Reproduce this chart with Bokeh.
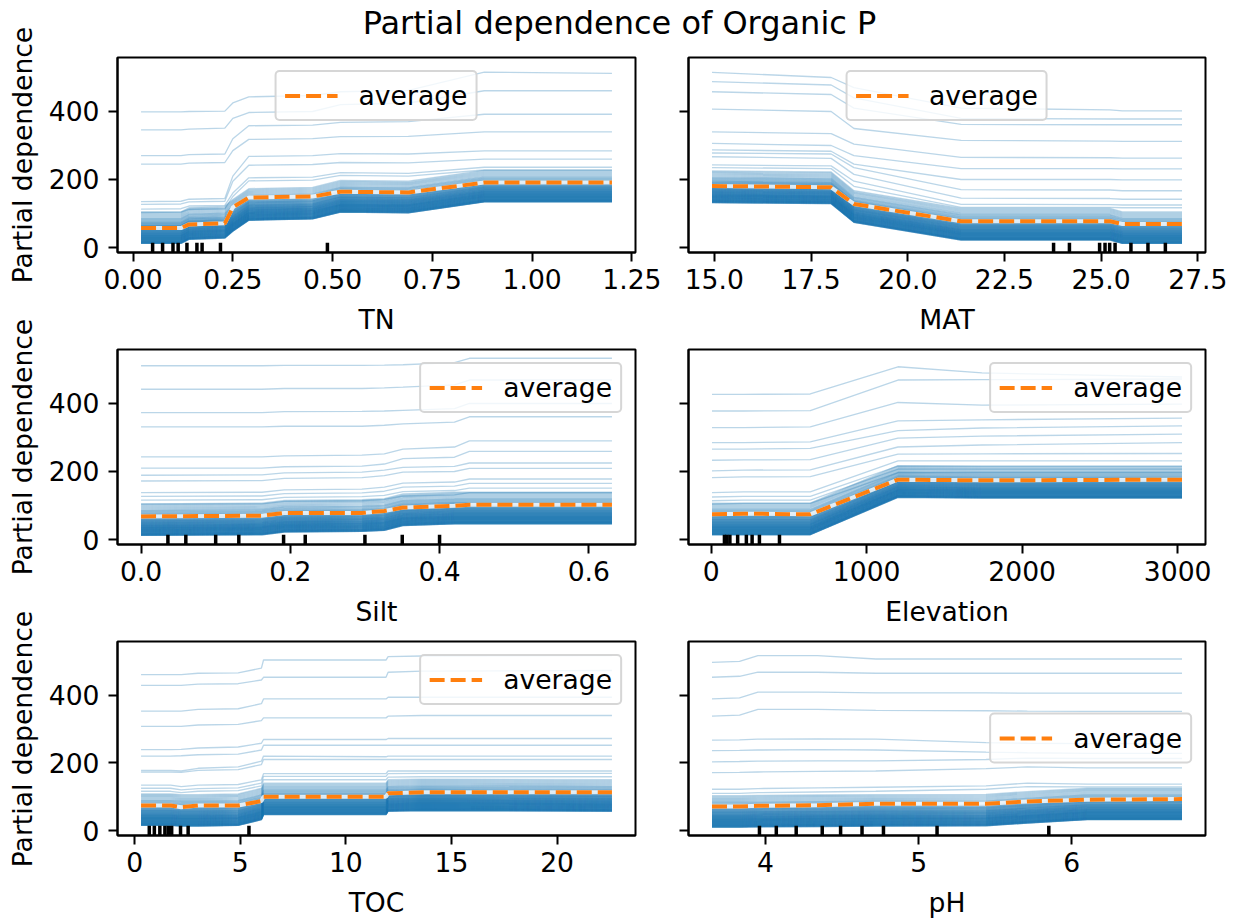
from bokeh.plotting import figure
from bokeh.layouts import column, row
from bokeh.models import (Range1d, FixedTicker, NumeralTickFormatter,
                          CustomJSTickFormatter, Legend, LegendItem)
from bokeh.core.properties import value
from bokeh.embed import file_html
from bokeh.resources import INLINE
import math

FONT = "DejaVu Sans"
ICE_BLUE = "#1f77b4"
AVG_ORANGE = "#ff7f0e"
TITLE = "Partial dependence of Organic P"
Y_LABEL = "Partial dependence"

# shared vertical extent of all six panels
Y_LOW, Y_HIGH = -14.7, 558.8
y_ticks = [0, 200, 400]

# level of each individual curve above the bottom of the dense band
band_offsets = [
    0, 0, 0, 1, 1, 2, 2, 2, 3, 3, 4, 4, 5, 5, 5, 6, 6, 7, 7, 8,
    8, 9, 9, 10, 10, 11, 11, 12, 12, 13, 13, 14, 14, 15, 15, 16, 16, 17, 17, 18,
    18, 19, 19, 20, 20, 21, 21, 22, 22, 23, 23, 24, 24, 25, 25, 26, 27, 27, 28, 28,
    29, 30, 30, 31, 31, 32, 33, 33, 34, 35, 35, 36, 37, 37, 38, 39, 40, 40, 41, 42,
    43, 44, 44, 45, 46, 47, 48, 49, 50, 51, 52, 53, 54, 55, 56, 58, 59, 60, 62, 63,
    65, 67, 69, 71, 73, 75, 78, 81, 84, 87, 90, 93,
]

# ---- TN ----
tn_grid = [0.02, 0.12, 0.14, 0.23, 0.25, 0.29, 0.45, 0.52, 0.69, 0.88, 1.20]
tn_average = [57, 57, 68, 71, 118, 147, 150, 164, 162, 191, 191]
tn_floor = [12, 12, 24, 28, 48, 80, 84, 104, 102, 134, 134]
tn_upper = [
    [399, 399, 400, 401, 425, 443, 447, 458, 462, 516, 512],
    [346, 346, 348, 351, 380, 397, 400, 420, 425, 461, 461],
    [270, 270, 273, 275, 320, 358, 360, 368, 370, 392, 392],
    [245, 245, 248, 250, 285, 318, 320, 326, 327, 340, 340],
    [135, 136, 142, 144, 210, 268, 270, 276, 275, 284, 284],
    [127, 128, 134, 136, 195, 242, 244, 250, 249, 260, 260],
    [113, 114, 122, 124, 160, 205, 207, 220, 218, 236, 236],
    [103, 104, 112, 114, 150, 196, 198, 212, 210, 228, 228],
]
tn_deciles = [0.049, 0.074, 0.100, 0.113, 0.135, 0.160, 0.173, 0.219, 0.487]
tn_ticks = [0.0, 0.25, 0.5, 0.75, 1.0, 1.25]

# ---- MAT ----
mat_grid = [14.94, 18.02, 18.61, 21.38, 25.23, 25.55, 27.09]
mat_average = [181, 177, 128, 77, 77, 69, 69]
mat_floor = [132, 129, 74, 22, 22, 12, 12]
mat_upper = [
    [515, 500, 470, 410, 405, 402, 402],
    [488, 478, 440, 380, 378, 378, 378],
    [458, 450, 410, 362, 361, 361, 361],
    [407, 400, 350, 315, 313, 312, 312],
    [340, 335, 304, 265, 264, 263, 263],
    [306, 300, 270, 232, 232, 231, 231],
    [287, 283, 245, 200, 200, 199, 199],
    [278, 275, 235, 170, 169, 167, 167],
    [267, 262, 215, 145, 144, 142, 142],
    [243, 240, 195, 127, 126, 125, 125],
    [235, 232, 180, 118, 118, 117, 117],
]
mat_deciles = [23.77, 24.18, 24.96, 25.10, 25.22, 25.36, 25.77, 26.21, 26.66]
mat_ticks = [15.0, 17.5, 20.0, 22.5, 25.0, 27.5]

# ---- Silt ----
silt_grid = [0.0, 0.162, 0.192, 0.296, 0.326, 0.351, 0.42, 0.44, 0.631]
silt_average = [68, 70, 78, 78, 84, 94, 99, 102, 102]
silt_floor = [12, 14, 22, 24, 27, 41, 46, 46, 46]
silt_upper = [
    [511, 511, 512, 512, 513, 514, 520, 533, 533],
    [442, 442, 444, 444, 446, 448, 455, 469, 469],
    [373, 373, 376, 377, 378, 380, 385, 400, 400],
    [331, 331, 333, 333, 336, 340, 345, 361, 361],
    [243, 243, 246, 248, 252, 266, 272, 290, 290],
    [210, 210, 214, 216, 222, 238, 242, 259, 259],
    [189, 190, 196, 198, 204, 212, 215, 225, 225],
    [172, 173, 180, 182, 188, 198, 200, 209, 209],
    [138, 139, 146, 148, 154, 166, 169, 178, 178],
    [127, 128, 135, 137, 142, 154, 157, 165, 165],
    [116, 117, 124, 126, 130, 141, 144, 151, 151],
    [104, 105, 112, 114, 118, 128, 131, 138, 138],
]
silt_deciles = [0.036, 0.060, 0.100, 0.131, 0.191, 0.220, 0.300, 0.350, 0.400]
silt_ticks = [0.0, 0.2, 0.4, 0.6]

# ---- Elevation ----
elev_grid = [5, 208, 637, 1201, 1741, 3028]
elev_average = [74, 76, 74, 176, 174, 176]
elev_floor = [14, 14, 14, 124, 122, 122]
elev_upper = [
    [427, 427, 428, 508, 490, 478],
    [378, 378, 379, 469, 470, 472],
    [329, 329, 331, 403, 395, 398],
    [285, 285, 287, 349, 352, 357],
    [266, 266, 268, 320, 328, 334],
    [233, 234, 235, 298, 304, 310],
    [202, 204, 205, 272, 278, 285],
    [182, 184, 185, 251, 252, 253],
    [138, 140, 140, 231, 231, 231],
    [125, 127, 127, 216, 216, 216],
    [114, 116, 116, 207, 207, 207],
    [104, 106, 106, 197, 197, 197],
]
elev_deciles = [85, 100, 120, 170, 226, 263, 310, 439]
elev_ticks = [0, 1000, 2000, 3000]

# ---- TOC ----
toc_grid = [0.3, 1.7, 2.2, 3.0, 4.9, 6.0, 6.1, 11.9, 12.0, 13.6, 22.6]
toc_average = [74, 74, 69, 74, 74, 87, 100, 100, 110, 113, 113]
toc_floor = [15, 15, 13, 13, 15, 32, 47, 47, 57, 59, 57]
toc_upper = [
    [461, 461, 461, 465, 466, 480, 504, 504, 514, 516, 517],
    [429, 429, 429, 433, 434, 445, 453, 453, 468, 471, 473],
    [353, 353, 353, 358, 360, 375, 389, 389, 394, 394, 394],
    [308, 308, 308, 312, 314, 325, 333, 333, 338, 340, 340],
    [239, 239, 240, 244, 247, 258, 269, 269, 272, 272, 272],
    [220, 220, 221, 224, 226, 238, 252, 252, 252, 252, 252],
    [178, 178, 176, 184, 188, 205, 220, 218, 220, 220, 220],
    [173, 173, 172, 178, 180, 195, 210, 210, 210, 210, 210],
    [134, 134, 130, 134, 136, 150, 168, 168, 176, 176, 176],
    [125, 125, 120, 124, 126, 140, 160, 160, 168, 169, 169],
    [116, 116, 112, 116, 118, 132, 150, 150, 158, 159, 159],
]
toc_deciles = [0.69, 0.93, 1.19, 1.43, 1.59, 1.75, 2.17, 2.53, 5.41]
toc_ticks = [0, 5, 10, 15, 20]

# ---- pH ----
ph_grid = [3.65, 3.83, 3.95, 4.34, 4.72, 5.44, 5.71, 6.10, 6.72]
ph_average = [71, 71, 73, 75, 79, 79, 86, 91, 93]
ph_floor = [10, 10, 11, 12, 13, 14, 22, 32, 32]
ph_upper = [
    [497, 500, 517, 517, 507, 507, 507, 507, 507],
    [453, 456, 468, 468, 465, 465, 465, 465, 465],
    [389, 392, 409, 409, 407, 407, 406, 406, 406],
    [338, 341, 358, 358, 355, 354, 353, 352, 352],
    [267, 268, 270, 271, 270, 260, 258, 257, 257],
    [236, 237, 238, 239, 238, 232, 230, 228, 228],
    [203, 204, 205, 206, 206, 210, 214, 213, 213],
    [171, 172, 173, 175, 176, 183, 188, 185, 185],
    [122, 122, 124, 126, 128, 132, 140, 137, 137],
    [110, 110, 112, 114, 116, 122, 130, 129, 129],
]
ph_deciles = [3.96, 4.07, 4.20, 4.37, 4.49, 4.63, 4.77, 5.12, 5.85]
ph_ticks = [4, 5, 6]

panels = [
    dict(name="TN", grid=tn_grid, average=tn_average, floor=tn_floor, upper=tn_upper,
         deciles=tn_deciles, ticks=tn_ticks, fmt="0.00", legend="top_center"),
    dict(name="MAT", grid=mat_grid, average=mat_average, floor=mat_floor, upper=mat_upper,
         deciles=mat_deciles, ticks=mat_ticks, fmt="0.0", legend="top_center"),
    dict(name="Silt", grid=silt_grid, average=silt_average, floor=silt_floor, upper=silt_upper,
         deciles=silt_deciles, ticks=silt_ticks, fmt="0.0", legend="top_right"),
    dict(name="Elevation", grid=elev_grid, average=elev_average, floor=elev_floor, upper=elev_upper,
         deciles=elev_deciles, ticks=elev_ticks, fmt="0", legend="top_right"),
    dict(name="TOC", grid=toc_grid, average=toc_average, floor=toc_floor, upper=toc_upper,
         deciles=toc_deciles, ticks=toc_ticks, fmt="0", legend="top_right"),
    dict(name="pH", grid=ph_grid, average=ph_average, floor=ph_floor, upper=ph_upper,
         deciles=ph_deciles, ticks=ph_ticks, fmt="0", legend="center_right"),
]

# page geometry (pixels)
PAGE_W, PAGE_H = 1234, 920
STRIP_W = 45          # column holding the rotated y labels
HEAD_H = 44           # band holding the suptitle
FRAME_H = 195
LEFT_W, RIGHT_W = 620, 569
ROW_BORDERS = [(13, 90), (7, 90), (7, 84)]   # (top, bottom) per row
TEXT_SIZE = "26.6px"


def style_axis(ax):
    ax.major_label_text_font = FONT
    ax.major_label_text_font_size = TEXT_SIZE
    ax.major_label_text_color = "black"
    ax.axis_label_text_font = FONT
    ax.axis_label_text_font_size = TEXT_SIZE
    ax.axis_label_text_font_style = "normal"
    ax.axis_label_text_color = "black"
    ax.major_tick_out = 9
    ax.major_tick_in = 0
    ax.major_tick_line_width = 2
    ax.major_tick_line_color = "black"
    ax.minor_tick_line_color = None
    ax.axis_line_width = 2
    ax.axis_line_color = "black"


def build_panel(spec, left_col, top_border, bottom_border):
    grid = spec["grid"]
    span = grid[-1] - grid[0]
    x_range = Range1d(grid[0] - 0.05 * span, grid[-1] + 0.05 * span)
    p = figure(
        width=LEFT_W if left_col else RIGHT_W,
        height=top_border + FRAME_H + bottom_border,
        x_range=x_range, y_range=Range1d(Y_LOW, Y_HIGH),
        min_border_left=72 if left_col else 23,
        min_border_right=30 if left_col else 29,
        min_border_top=top_border, min_border_bottom=bottom_border,
        toolbar_location=None, output_backend="svg",
    )
    p.xgrid.visible = False
    p.ygrid.visible = False
    p.outline_line_color = "black"
    p.outline_line_width = 2

    # individual conditional expectation curves
    band_ys = [[f + o for f in spec["floor"]] for o in band_offsets]
    p.multi_line(xs=[grid] * len(band_ys), ys=band_ys,
                 line_color=ICE_BLUE, line_alpha=0.3, line_width=1.33)
    p.multi_line(xs=[grid] * len(spec["upper"]), ys=spec["upper"],
                 line_color=ICE_BLUE, line_alpha=0.3, line_width=1.33)

    # averaged partial dependence, on a pale underlay
    p.line(grid, spec["average"], line_color="white", line_width=4, line_alpha=0.8)
    avg = p.line(grid, spec["average"], line_color=AVG_ORANGE, line_width=4,
                 line_dash="15 6")

    # deciles of the feature as a rug along the bottom
    rug_top = Y_LOW + 0.05 * (Y_HIGH - Y_LOW)
    n = len(spec["deciles"])
    p.segment(x0=spec["deciles"], y0=[Y_LOW] * n, x1=spec["deciles"], y1=[rug_top] * n,
              line_color="black", line_width=3.5)

    style_axis(p.xaxis[0])
    style_axis(p.yaxis[0])
    p.xaxis[0].ticker = FixedTicker(ticks=spec["ticks"])
    p.xaxis[0].formatter = NumeralTickFormatter(format=spec["fmt"])
    p.xaxis[0].axis_label = spec["name"]
    p.xaxis[0].major_label_standoff = 7
    p.xaxis[0].axis_label_standoff = 12
    p.yaxis[0].ticker = FixedTicker(ticks=y_ticks)
    p.yaxis[0].major_label_standoff = 9
    if not left_col:
        p.yaxis[0].formatter = CustomJSTickFormatter(code="return ''")

    legend_kw = dict(
        items=[LegendItem(label="average", renderers=[avg])],
        location=spec["legend"], margin=13, padding=8, spacing=0,
        label_text_font=FONT, label_text_font_size=TEXT_SIZE, label_text_color="black",
        glyph_width=53, glyph_height=27, label_height=27, label_standoff=21,
        border_line_color="#cccccc", border_line_width=2.5, border_line_alpha=0.8,
        background_fill_color="white", background_fill_alpha=0.8,
    )
    if "border_radius" in Legend.properties():
        legend_kw["border_radius"] = 5
    p.add_layout(Legend(**legend_kw))
    return p


def blank(width, height):
    f = figure(width=width, height=height, x_range=Range1d(0, width), y_range=Range1d(0, height),
               toolbar_location=None, output_backend="svg", min_border=0)
    f.axis.visible = False
    f.xgrid.visible = False
    f.ygrid.visible = False
    f.outline_line_color = None
    return f


# suptitle, centred over the whole page
head = blank(PAGE_W - STRIP_W, HEAD_H)
head.text(x=[PAGE_W / 2 + 2 - STRIP_W], y=[HEAD_H - 22], text=[TITLE],
          text_align="center", text_baseline="middle",
          text_font=value(FONT), text_font_size="32px", text_color="black")

# rotated y labels, one per row, centred on each row's frame
frame_centres = []
top = HEAD_H
for top_b, bot_b in ROW_BORDERS:
    frame_centres.append(top + top_b + FRAME_H / 2)
    top += top_b + FRAME_H + bot_b
strip = blank(STRIP_W, PAGE_H)
strip.text(x=[22] * 3, y=[PAGE_H - c for c in frame_centres], text=[Y_LABEL] * 3,
           angle=math.pi / 2, text_align="center", text_baseline="middle",
           text_font=value(FONT), text_font_size=TEXT_SIZE, text_color="black")

rows = []
for r, (top_b, bot_b) in enumerate(ROW_BORDERS):
    left = build_panel(panels[2 * r], True, top_b, bot_b)
    right = build_panel(panels[2 * r + 1], False, top_b, bot_b)
    rows.append(row(left, right, spacing=0))

layout = row(strip, column(head, *rows, spacing=0), spacing=0)

open("out.html", "w").write(file_html(layout, INLINE, title=TITLE))
